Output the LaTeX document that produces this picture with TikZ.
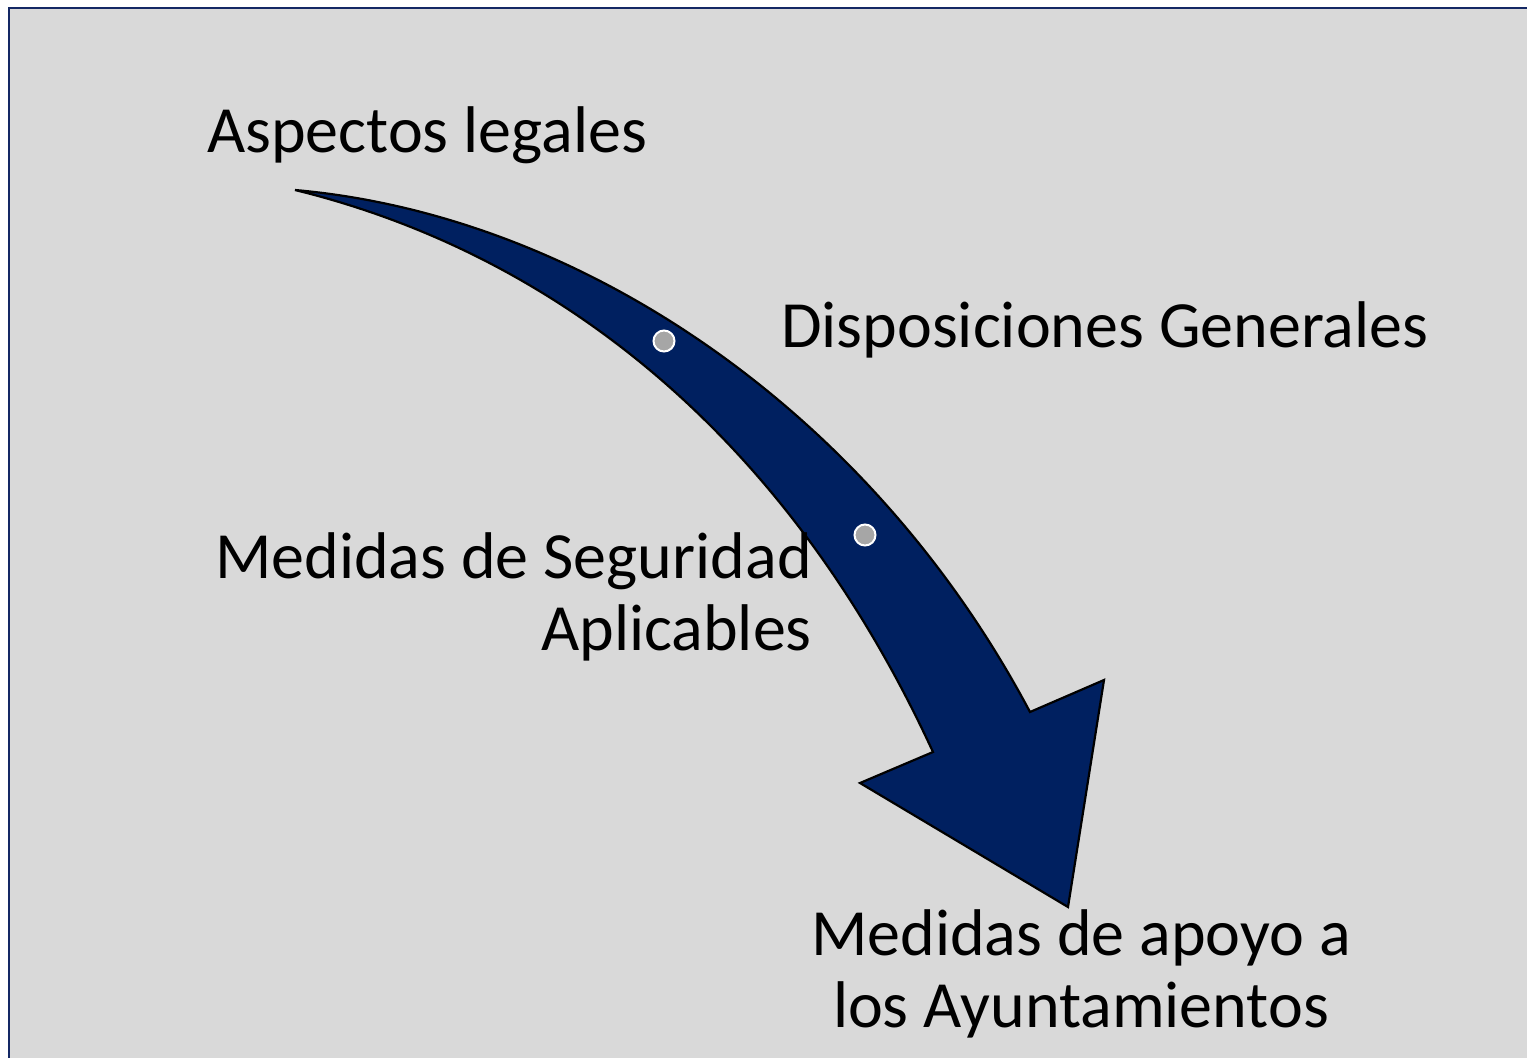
\documentclass[tikz,border=0pt]{standalone}
\usepackage{fontspec}
\setmainfont{Carlito}
\tikzstyle{slide text}=[inner sep=0pt, font=\fontsize{66}{72}\selectfont, align=#1]
\tikzstyle{bullet dot}=[draw=white, line width=2pt, circle, minimum size=21pt, inner sep=0pt, fill=#1]
\tikzstyle{flow arrow}=[draw=black, line width=2.2pt, line join=miter, fill=#1]
\definecolor{navy}{RGB}{0, 32, 96}
\definecolor{panel}{RGB}{217, 217, 217}
\definecolor{frame}{RGB}{20, 40, 100}
\definecolor{dotgray}{RGB}{166, 166, 166}

\begin{document}
\begin{tikzpicture}[x=1pt, y=-1pt]
		\useasboundingbox (0,0) rectangle (1527,1058);
		\fill[panel] (9,8) rectangle (1527,1058);
		\draw[frame, line width=2.5pt] (9,1058) -- (9,8) -- (1527,8);

		\draw[flow arrow = navy] (295,190) .. controls (580,215) and (870,410) .. (1030,712)
			-- (1104,680) -- (1068,907) -- (860,783) -- (933,752)
			.. controls (780,420) and (540,250) .. (295,190) -- cycle;

		\node [bullet dot = dotgray] (D1) at (664,341) {};
		\node [bullet dot = dotgray] (D2) at (865,535) {};

		\node [slide text = left, anchor=base west] (L) at (207,152) {Aspectos legales};
		\node [slide text = left, anchor=base west] (G) at (781,347) {Disposiciones Generales};
		\node [slide text = right, anchor=base east] (S) at (812,650) {Medidas de Seguridad\\Aplicables};
		\node [slide text = center, anchor=base] (M) at (1081,1027) {Medidas de apoyo a\\los Ayuntamientos};
	\end{tikzpicture}
\end{document}
